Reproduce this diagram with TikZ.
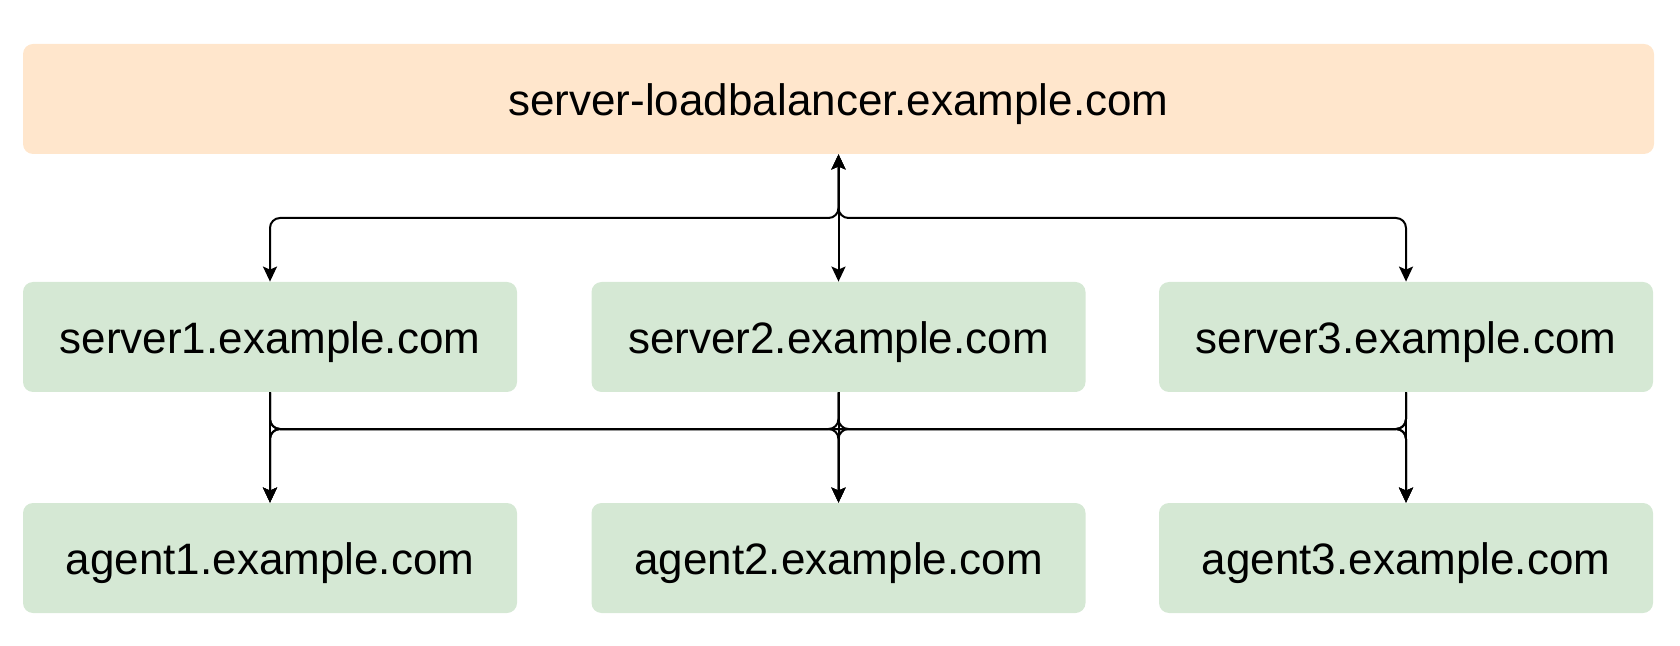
\documentclass[tikz,border=0pt]{standalone}
\usepackage{fontspec}
\setmainfont{Liberation Sans}
\usetikzlibrary{arrows.meta}
\definecolor{lbfill}{HTML}{FFE6CC}
\definecolor{srvfill}{HTML}{D5E8D4}
\begin{document}
\begin{tikzpicture}[x=0.5pt,y=-0.5pt,
  box/.style={rectangle, rounded corners=5pt, draw=none, inner sep=0pt,
    minimum height=55pt, text height=20pt, text depth=3.2pt,
    font=\fontsize{22}{26}\selectfont, text=black},
  lbbox/.style={box, fill=lbfill, minimum width=815.5pt},
  hostbox/.style={box, fill=srvfill, minimum width=247pt},
  conn/.style={line width=1pt, rounded corners=5pt},
  tip/.style={-{Stealth[length=7.5pt,width=7pt,inset=1.5pt]}},
  bitip/.style={{Stealth[length=7.5pt,width=7pt,inset=1.5pt]}-{Stealth[length=7.5pt,width=7pt,inset=1.5pt]}}]
\useasboundingbox (0,0) rectangle (1680,646);
\node[lbbox] (lb) at (838.5,99) {server-loadbalancer.example.com};
\node[hostbox] (s1) at (270,337) {server1.example.com};
\node[hostbox] (s2) at (838.5,337) {server2.example.com};
\node[hostbox] (s3) at (1406,337) {server3.example.com};
\node[hostbox] (a1) at (270,558) {agent1.example.com};
\node[hostbox] (a2) at (838.5,558) {agent2.example.com};
\node[hostbox] (a3) at (1406,558) {agent3.example.com};
\coordinate (tb) at (0,218);
\coordinate (bb) at (0,429);
% top edges
\draw[conn,bitip] (lb.south) -- (lb.south |- tb) -- (s1.north |- tb) -- (s1.north);
\draw[conn,bitip] (lb.south) -- (s2.north);
\draw[conn,bitip] (lb.south) -- (lb.south |- tb) -- (s3.north |- tb) -- (s3.north);
% bottom edges
\foreach \s in {s1,s2,s3}{
  \foreach \a in {a1,a2,a3}{
    \draw[conn,tip] (\s.south) -- (\s.south |- bb) -- (\a.north |- bb) -- (\a.north);
  }
}
\end{tikzpicture}
\end{document}
